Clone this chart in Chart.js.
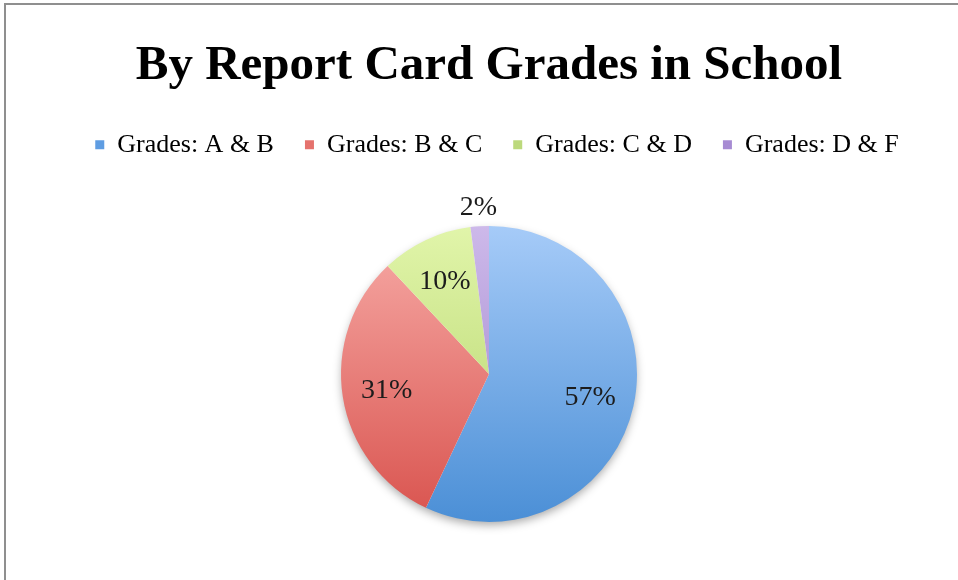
<!DOCTYPE html>
<html>
<head>
<meta charset="utf-8">
<script src="https://cdn.jsdelivr.net/npm/chart.js@4.4.1/dist/chart.umd.min.js"></script>
<style>
  html, body { margin: 0; padding: 0; background: #fff; overflow: hidden; }
  #wrap { position: absolute; left: 0; top: 0; width: 958px; height: 580px; }
  #frame {
    position: absolute; left: 4px; top: 3px; width: 970px; height: 600px;
    border-top: 2px solid #8f8f8f; border-left: 2px solid #8f8f8f;
    pointer-events: none;
  }
</style>
</head>
<body>
<div id="wrap"><canvas id="gradeChart"></canvas></div>
<div id="frame"></div>
<script>
// data
const categories = ["Grades: A & B", "Grades: B & C", "Grades: C & D", "Grades: D & F"];
const percents = [57, 31, 10, 2];

// colours (top / bottom of the pie gradient, and legend swatch)
const topColors = ["#a6cbf8", "#f7aba7", "#e1f5aa", "#cdb9ea"];
const bottomColors = ["#4b8fd6", "#d9534e", "#b2d267", "#9a7ec8"];
const legendColors = ["#5f9de2", "#e5726d", "#bcd97c", "#a78bd3"];

const PIE_RADIUS = 148;

function sliceFill(ctx) {
  const chart = ctx.chart;
  const area = chart.chartArea;
  const i = ctx.dataIndex;
  if (!area) return legendColors[i];
  const cy = (area.top + area.bottom) / 2;
  const g = chart.ctx.createLinearGradient(0, cy - PIE_RADIUS, 0, cy + PIE_RADIUS);
  g.addColorStop(0, topColors[i]);
  g.addColorStop(1, bottomColors[i]);
  return g;
}

// legend sits a little right of the pie centre in the original
const legendNudge = {
  id: "legendNudge",
  afterLayout(chart) {
    chart.legend.left += 8;
    chart.legend.right += 8;
  }
};

// soft shadow under the pie
const pieShadow = {
  id: "pieShadow",
  beforeDatasetsDraw(chart) {
    const arc = chart.getDatasetMeta(0).data[0];
    if (!arc) return;
    const c = chart.ctx;
    c.save();
    c.shadowColor = "rgba(0,0,0,0.35)";
    c.shadowBlur = 10;
    c.shadowOffsetY = 4;
    c.fillStyle = "#ffffff";
    c.beginPath();
    c.arc(arc.x, arc.y, arc.outerRadius - 1, 0, Math.PI * 2);
    c.fill();
    c.restore();
  }
};

// percentage labels
const pieLabels = {
  id: "pieLabels",
  afterDatasetsDraw(chart) {
    const c = chart.ctx;
    const meta = chart.getDatasetMeta(0);
    c.save();
    c.font = "28px 'Liberation Serif'";
    c.fillStyle = "#1c1c1c";
    c.textAlign = "center";
    c.textBaseline = "middle";
    meta.data.forEach((arc, i) => {
      const mid = (arc.startAngle + arc.endAngle) / 2;
      const f = percents[i] < 5 ? 1.13 : 0.7;
      const r = arc.outerRadius * f;
      c.fillText(percents[i] + "%", arc.x + Math.cos(mid) * r, arc.y + Math.sin(mid) * r + 1);
    });
    c.restore();
  }
};

new Chart(document.getElementById("gradeChart"), {
  type: "pie",
  data: {
    labels: categories,
    datasets: [{
      data: percents,
      backgroundColor: sliceFill,
      borderWidth: 0,
      radius: PIE_RADIUS
    }]
  },
  options: {
    responsive: true,
    maintainAspectRatio: false,
    animation: false,
    layout: { padding: { left: 20, right: 0, top: 0, bottom: -3 } },
    plugins: {
      title: {
        display: true,
        text: "By Report Card Grades in School",
        color: "#000",
        font: { family: "'Liberation Serif'", size: 49, weight: "bold", lineHeight: 1.2 },
        padding: { top: 37, bottom: 5 }
      },
      legend: {
        position: "top",
        labels: {
          color: "#1a1a1a",
          font: { family: "'Liberation Serif'", size: 26 },
          boxWidth: 9,
          boxHeight: 9,
          padding: 31,
          generateLabels: (chart) => categories.map((name, i) => ({
            text: name,
            fillStyle: legendColors[i],
            strokeStyle: legendColors[i],
            lineWidth: 0,
            hidden: false,
            index: i
          }))
        }
      },
      tooltip: { enabled: false }
    }
  },
  plugins: [legendNudge, pieShadow, pieLabels]
});
</script>
</body>
</html>
